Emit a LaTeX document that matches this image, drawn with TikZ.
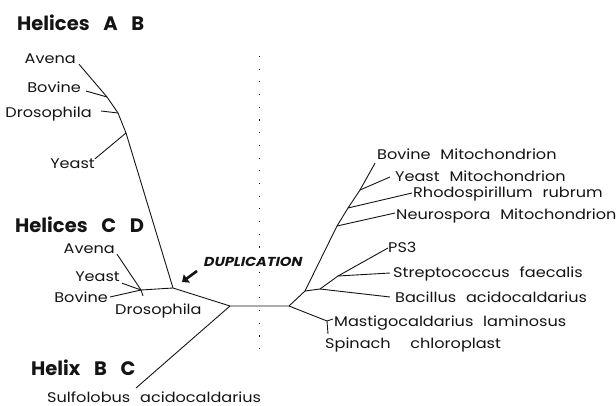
\documentclass[tikz,border=0pt]{standalone}
\usepackage{fontspec}
\setmainfont{Poppins}
\newfontfamily\lblfont{Poppins}[FakeStretch=1.15]
\newfontfamily\dupfont{Poppins}[FakeStretch=1.12, FakeSlant=0.22]
\usepackage{tikz}
\usetikzlibrary{arrows.meta,positioning}
\definecolor{ink}{RGB}{20,20,20}
\newcommand{\wsp}{\hspace{0.7em}}

\begin{document}
\begin{tikzpicture}[x=1pt, y=-1pt,
  lbl/.style={inner sep=0pt, text=ink, font=\lblfont\fontsize{14}{16}\selectfont,
              text height=10pt, text depth=0pt},
  ttl/.style={inner sep=0pt, text=ink, font=\fontsize{19.5}{22}\selectfont\bfseries,
              text height=14pt, text depth=0pt, anchor=west},
  br/.style={draw=ink, line width=0.9pt, line join=round},
  dupar/.style={-{Triangle[length=6pt,width=10pt]}, line width=2.6pt, draw=ink},
  divider/.style={draw=ink, line width=1pt, dash pattern=on 1.1pt off 11.6pt},
]
  \useasboundingbox (0,0) rectangle (616,406);

  \node[ttl] (hAB) at (17,24) {Helices\wsp A\wsp B};
  \node[ttl] (hCD) at (15,226) {Helices\wsp C\wsp D};
  \node[ttl] (hBC) at (31,368) {Helix\wsp B\wsp C};

  \node[lbl, anchor=east] (avAB) at (76,59) {Avena};
  \node[lbl, anchor=east] (boAB) at (81,88) {Bovine};
  \node[lbl, anchor=east] (drAB) at (92,113) {Drosophila};
  \node[lbl, anchor=east] (yeAB) at (95,164) {Yeast};
  \coordinate (jBoAB) at (107,97);
  \coordinate (jDrAB) at (118,113);
  \coordinate (jYeAB) at (126,133);
  \coordinate (jD) at (173,288);

  \draw[br] ([xshift=3pt]avAB.south east) -- (jBoAB) -- (jDrAB) -- (jYeAB) -- (jD);
  \draw[br] ([xshift=5pt,yshift=-3pt]boAB.east) -- (jBoAB);
  \draw[br] ([xshift=9pt,yshift=2pt]drAB.east) -- (jDrAB);
  \draw[br] (yeAB.north east) -- (jYeAB);

  \node[lbl, anchor=east] (avCD) at (115,249) {Avena};
  \node[lbl, anchor=east] (yeCD) at (120,276) {Yeast};
  \node[lbl, anchor=east] (boCD) at (108,297) {Bovine};
  \node[lbl, anchor=west] (drCD) at (115,309) {Drosophila};
  \coordinate (jCD) at (141,290);
  \coordinate (tDrCD) at (143,296);

  \draw[br] ([xshift=2pt]avCD.south east) -- (jCD);
  \draw[br] ([xshift=2pt,yshift=-2pt]yeCD.south east) -- (jCD);
  \draw[br] ([xshift=2pt]boCD.east) -- (jCD) -- (jD);
  \draw[br] (jCD) -- (tDrCD);

  \node[anchor=west, inner sep=0pt, text=ink,
        font=\dupfont\fontsize{13}{15}\selectfont\bfseries] (dup) at (203,262) {DUPLICATION};
  \coordinate (arrH) at (182,282);
  \draw[dupar] ([xshift=-6pt,yshift=-9pt]dup.west) -- (arrH);

  \coordinate (jE) at (230,306);
  \coordinate (jR) at (289,306);
  \node[lbl, anchor=west] (sulf) at (47,397) {Sulfolobus\wsp acidocaldarius};
  \coordinate (sEnd) at (136,388);
  \draw[br] (jD) -- (jE) -- (jR);
  \draw[br] (jE) -- (sEnd);

  \coordinate (dTop) at (259,56);
  \coordinate (dBot) at (259,354);
  \draw[divider] (dTop) -- (dBot);

  \node[lbl, anchor=west] (bm) at (377,155) {Bovine\wsp Mitochondrion};
  \node[lbl, anchor=west] (ym) at (395,177) {Yeast\wsp Mitochondrion};
  \node[lbl, anchor=west] (rr) at (413,193) {Rhodospirillum\wsp rubrum};
  \node[lbl, anchor=west] (nm) at (396,215) {Neurospora\wsp Mitochondrion};
  \node[lbl, anchor=west] (ps) at (388,248) {PS3};
  \node[lbl, anchor=west] (sf) at (393,273) {Streptococcus\wsp faecalis};
  \node[lbl, anchor=west] (ba) at (395,297) {Bacillus\wsp acidocaldarius};
  \node[lbl, anchor=west] (ml) at (334,321) {Mastigocaldarius\wsp laminosus};
  \node[lbl, anchor=west] (sc) at (325,343) {Spinach\wsp\wsp chloroplast};

  \coordinate (jK) at (305,291);
  \coordinate (jNeu) at (337,226);
  \coordinate (jRho) at (348,208);
  \coordinate (jYM) at (360,190);
  \coordinate (jL) at (320,289);
  \coordinate (jP) at (338,276);
  \coordinate (jM) at (327,321);

  \draw[br] (jR) -- (jK) -- (jNeu) -- (jRho) -- (jYM) -- ([xshift=-2pt,yshift=-3pt]bm.south west);
  \draw[br] (jYM) -- ([xshift=-5pt]ym.west);
  \draw[br] (jRho) -- ([xshift=-1pt]rr.west);
  \draw[br] (jNeu) -- ([xshift=-1pt,yshift=2pt]nm.west);
  \draw[br] (jK) -- (jL) -- (jP) -- (ps.west);
  \draw[br] (jP) -- ([xshift=-3pt]sf.west);
  \draw[br] (jL) -- ([xshift=-5pt]ba.west);
  \draw[br] (jR) -- (jM) -- ([xshift=-1pt,yshift=2pt]ml.west);
  \draw[br] (jM) -- ([xshift=3pt,yshift=4pt]sc.north west);
\end{tikzpicture}
\end{document}
